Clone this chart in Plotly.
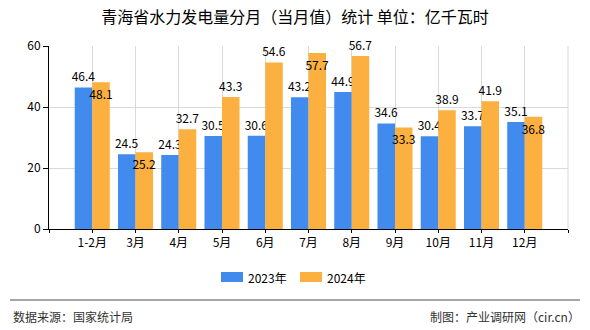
import plotly.graph_objects as go

categories = ["1-2月", "3月", "4月", "5月", "6月", "7月", "8月", "9月", "10月", "11月", "12月"]
values_2023 = [46.4, 24.5, 24.3, 30.5, 30.6, 43.2, 44.9, 34.6, 30.4, 33.7, 35.1]
values_2024 = [48.1, 25.2, 32.7, 43.3, 54.6, 57.7, 56.7, 33.3, 38.9, 41.9, 36.8]
label_pos_2024 = ["inside", "inside", "outside", "outside", "outside", "inside",
                  "outside", "inside", "outside", "outside", "inside"]
y_ticks = [0, 20, 40, 60]

BLUE = "#428BEE"
ORANGE = "#FBB040"
FONT = "Noto Sans CJK SC"

W, H = 590, 330
L, R, T, B = 49, 22, 46, 101

xs = list(range(len(categories)))

fig = go.Figure()
fig.add_trace(go.Bar(
    x=xs, y=values_2023, name="2023年", marker_color=BLUE, marker_line_width=0,
    text=[f"{v:.1f}" for v in values_2023], textposition="outside", textangle=0,
    textfont=dict(family=FONT, size=12, color="#000"), cliponaxis=False,
    constraintext="none", showlegend=False,
))
fig.add_trace(go.Bar(
    x=xs, y=values_2024, name="2024年", marker_color=ORANGE, marker_line_width=0,
    text=[f"{v:.1f}" for v in values_2024], textposition=label_pos_2024,
    insidetextanchor="end", textangle=0,
    textfont=dict(family=FONT, size=12, color="#000"),
    insidetextfont=dict(family=FONT, size=12, color="#000"),
    outsidetextfont=dict(family=FONT, size=12, color="#000"),
    cliponaxis=False, constraintext="none", showlegend=False,
))

tickvals = [-1] + xs + [len(xs)]
ticktext = [""] + categories + [""]

fig.update_layout(
    width=W, height=H,
    margin=dict(l=L, r=R, t=T, b=B),
    paper_bgcolor="white", plot_bgcolor="white",
    barmode="group", bargap=0.19, bargroupgap=0,
    font=dict(family=FONT, size=12, color="#000"),
    title=dict(text="青海省水力发电量分月（当月值）统计 单位：亿千瓦时",
               x=0.5, xref="container", xanchor="center",
               y=1 - 17 / H, yref="container", yanchor="middle",
               font=dict(family=FONT, size=16, color="#000")),
    xaxis=dict(range=[-1, len(xs)], tickvals=tickvals, ticktext=ticktext,
               showgrid=True, gridcolor="#d9d9d9", gridwidth=1,
               showline=True, linecolor="#000", linewidth=1,
               ticks="outside", ticklen=3, tickcolor="#000",
               tickfont=dict(family=FONT, size=12, color="#000"),
               zeroline=False, fixedrange=True),
    yaxis=dict(range=[0, 60], tickvals=y_ticks,
               showgrid=True, gridcolor="#d9d9d9", gridwidth=1,
               showline=True, linecolor="#000", linewidth=1,
               ticks="outside", ticklen=5, tickcolor="#000",
               tickfont=dict(family=FONT, size=12, color="#000"),
               zeroline=False, fixedrange=True),
    showlegend=False,
)

pw = W - L - R
ph = H - T - B


def px2x(px):
    return (px - L) / pw


def px2y(py):
    return (H - B - py) / ph


# right-edge gridline of the plot area
fig.add_shape(type="line", xref="paper", yref="paper", x0=1, x1=1, y0=0, y1=1,
              line=dict(color="#d9d9d9", width=1), layer="below")

# manual legend
legend_items = [("2023年", BLUE, 221), ("2024年", ORANGE, 300)]
for name, col, x0 in legend_items:
    fig.add_shape(type="rect", xref="paper", yref="paper",
                  x0=px2x(x0), x1=px2x(x0 + 22), y0=px2y(282), y1=px2y(272),
                  fillcolor=col, line_width=0)
    fig.add_annotation(text=name, xref="paper", yref="paper",
                       x=px2x(x0 + 25), y=px2y(277), xanchor="left", yanchor="middle",
                       showarrow=False, font=dict(family=FONT, size=12, color="#000"))

# footer
fig.add_shape(type="line", xref="paper", yref="paper",
              x0=px2x(10), x1=px2x(580), y0=px2y(300), y1=px2y(300),
              line=dict(color="#888888", width=1.5))
fig.add_annotation(text="数据来源：国家统计局", xref="paper", yref="paper",
                   x=px2x(11), y=px2y(316), xanchor="left", yanchor="middle",
                   showarrow=False, font=dict(family=FONT, size=12, color="#333"))
fig.add_annotation(text="制图：产业调研网（cir.cn）", xref="paper", yref="paper",
                   x=px2x(582), y=px2y(316), xanchor="right", yanchor="middle",
                   showarrow=False, font=dict(family=FONT, size=12, color="#333"))

fig.write_html("out.html")
